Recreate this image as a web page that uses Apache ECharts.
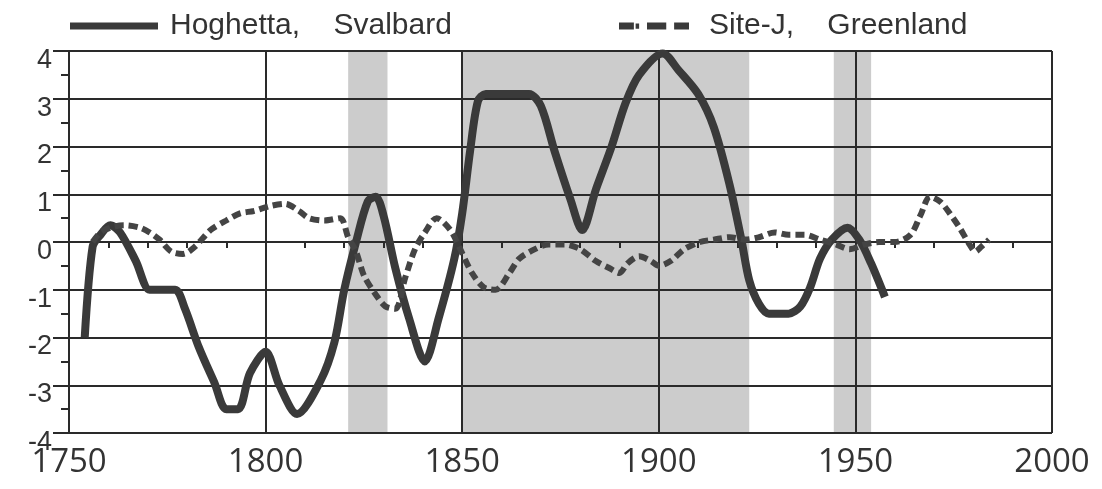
<!DOCTYPE html>
<html>
<head>
<meta charset="utf-8">
<script src="https://cdn.jsdelivr.net/npm/echarts@6/dist/echarts.min.js"></script>
<style>
  html, body { margin: 0; padding: 0; background: #fff; }
  #chart { width: 1102px; height: 489px; }
</style>
</head>
<body>
<div id="chart"></div>
<script>
// Hoghetta, Svalbard (solid)
const hogYears = [1754, 1756, 1758, 1760.5, 1763, 1767, 1770.5, 1773, 1777, 1779.5, 1783, 1787, 1790, 1793, 1796, 1800, 1803.5, 1808, 1814, 1817.5, 1820, 1823, 1826, 1828, 1830, 1833, 1836.5, 1840.5, 1844, 1848, 1850, 1852, 1854, 1856, 1862, 1867, 1870, 1873.5, 1877.5, 1880.5, 1884, 1888, 1891.5, 1895, 1901, 1905, 1910, 1914, 1918, 1921, 1923, 1925.5, 1928, 1933, 1936, 1938.5, 1941, 1944, 1948, 1951, 1954, 1957.5];
const hogValues = [-2.0, -0.1, 0.15, 0.35, 0.2, -0.4, -1.0, -1.0, -1.0, -1.4, -2.2, -2.95, -3.5, -3.5, -2.75, -2.3, -3.0, -3.6, -2.9, -2.1, -1.0, 0, 0.85, 0.95, 0.55, -0.55, -1.6, -2.5, -1.6, -0.35, 0.6, 1.9, 2.95, 3.1, 3.1, 3.1, 2.85, 1.9, 0.9, 0.25, 1.1, 2.0, 2.9, 3.5, 3.95, 3.6, 3.1, 2.4, 1.2, 0.05, -0.8, -1.3, -1.5, -1.5, -1.35, -0.95, -0.35, 0.05, 0.3, 0.05, -0.45, -1.15];

// Site-J, Greenland (dashed)
const siteYears = [1756, 1758, 1760.5, 1764, 1768, 1770.5, 1773, 1776, 1779, 1782, 1786, 1790, 1793.5, 1797, 1801, 1805, 1808.5, 1811, 1815, 1819, 1821, 1823, 1825, 1828, 1830.5, 1833, 1835.5, 1838, 1840.5, 1843.5, 1847, 1849.5, 1852.5, 1855.5, 1858.5, 1862, 1864.5, 1868.5, 1872, 1876, 1880, 1884, 1887.5, 1890, 1892, 1895, 1898, 1900, 1903, 1906.5, 1910.5, 1914, 1918, 1922, 1925.5, 1929.5, 1933, 1937, 1941, 1945, 1948.5, 1952.5, 1956, 1960, 1964, 1966.5, 1969, 1971.5, 1974, 1976.5, 1979, 1980.5, 1982, 1984];
const siteValues = [0.0, 0.2, 0.3, 0.35, 0.3, 0.2, 0.05, -0.2, -0.25, -0.1, 0.25, 0.45, 0.6, 0.65, 0.75, 0.8, 0.65, 0.5, 0.45, 0.5, 0.1, -0.2, -0.7, -1.1, -1.35, -1.4, -0.75, -0.15, 0.2, 0.5, 0.25, -0.15, -0.65, -0.95, -1.0, -0.65, -0.35, -0.15, -0.05, -0.05, -0.15, -0.4, -0.55, -0.65, -0.45, -0.3, -0.4, -0.5, -0.4, -0.15, 0.0, 0.05, 0.1, 0.05, 0.1, 0.2, 0.15, 0.15, 0.05, -0.05, -0.15, -0.05, 0.0, 0.0, 0.15, 0.55, 0.95, 0.85, 0.6, 0.3, -0.05, -0.2, -0.1, 0.05];

// shaded periods
const shadedPeriods = [[1821, 1831], [1850, 1923], [1944.5, 1954]];

const seriesNames = ["Hoghetta,    Svalbard", "Site-J,    Greenland"];

const zip = (xs, ys) => xs.map((x, i) => [x, ys[i]]);

const legendText = {
  fontFamily: "Liberation Sans",
  fontSize: 30,
  color: "#333",
};

const axisColor = "#2a2a2a";

const chart = echarts.init(document.getElementById("chart"));

const option = {
  animation: false,
  backgroundColor: "#ffffff",
  legend: [
    {
      data: [{ name: seriesNames[0], icon: "rect" }],
      top: 11,
      left: 70,
      padding: 0,
      itemWidth: 88,
      itemHeight: 7,
      itemStyle: { color: "#3a3a3a" },
      textStyle: { ...legendText, padding: [0, 0, 0, 7] },
    },
    {
      data: [{
        name: seriesNames[1],
        icon: "path://M0,0h17v8h-17z M19,1h4v6h-4z M32,0h22v8h-22z M63,0h17v8h-17z",
      }],
      top: 11,
      left: 619,
      padding: 0,
      itemWidth: 80,
      itemHeight: 7,
      itemStyle: { color: "#3a3a3a" },
      textStyle: { ...legendText, padding: [0, 0, 0, 10] },
    },
  ],
  grid: {
    left: 69,
    right: 50,
    top: 51,
    bottom: 56,
  },
  xAxis: {
    type: "value",
    min: 1750,
    max: 2000,
    interval: 50,
    axisLine: { lineStyle: { color: axisColor, width: 2 } },
    axisTick: { length: 10, lineStyle: { color: axisColor, width: 2 } },
    minorTick: { show: true, splitNumber: 5, length: 6, lineStyle: { color: axisColor, width: 2 } },
    splitLine: { show: true, lineStyle: { color: axisColor, width: 2 } },
    axisLabel: {
      fontFamily: "Open Sans",
      fontSize: 33,
      color: "#333",
      margin: 13,
      formatter: (v) => String(v),
    },
  },
  yAxis: {
    type: "value",
    min: -4,
    max: 4,
    interval: 1,
    axisLine: { show: true, lineStyle: { color: axisColor, width: 2 } },
    axisTick: { show: true, length: 16, lineStyle: { color: axisColor, width: 2 } },
    minorTick: { show: true, splitNumber: 2, length: 8, lineStyle: { color: axisColor, width: 2 } },
    splitLine: { show: true, lineStyle: { color: axisColor, width: 2 } },
    axisLabel: {
      fontFamily: "Liberation Sans",
      fontSize: 27,
      color: "#333",
      margin: 17,
      verticalAlign: "top",
      lineHeight: 19,
    },
  },
  series: [
    {
      name: "shade",
      type: "line",
      data: [],
      silent: true,
      markArea: {
        silent: true,
        z: -1,
        itemStyle: { color: "#cccccc" },
        data: shadedPeriods.map(([a, b]) => [{ xAxis: a }, { xAxis: b }]),
      },
    },
    {
      name: seriesNames[0],
      type: "line",
      data: zip(hogYears, hogValues),
      symbol: "none",
      smooth: 0.3,
      color: "#3a3a3a",
      lineStyle: { color: "#3a3a3a", width: 8 },
      z: 3,
    },
    {
      name: seriesNames[1],
      type: "line",
      data: zip(siteYears, siteValues),
      symbol: "none",
      smooth: 0.3,
      color: "#444",
      lineStyle: { color: "#444", width: 6, type: [9, 5] },
      z: 4,
    },
  ],
};

chart.setOption(option);
</script>
</body>
</html>
